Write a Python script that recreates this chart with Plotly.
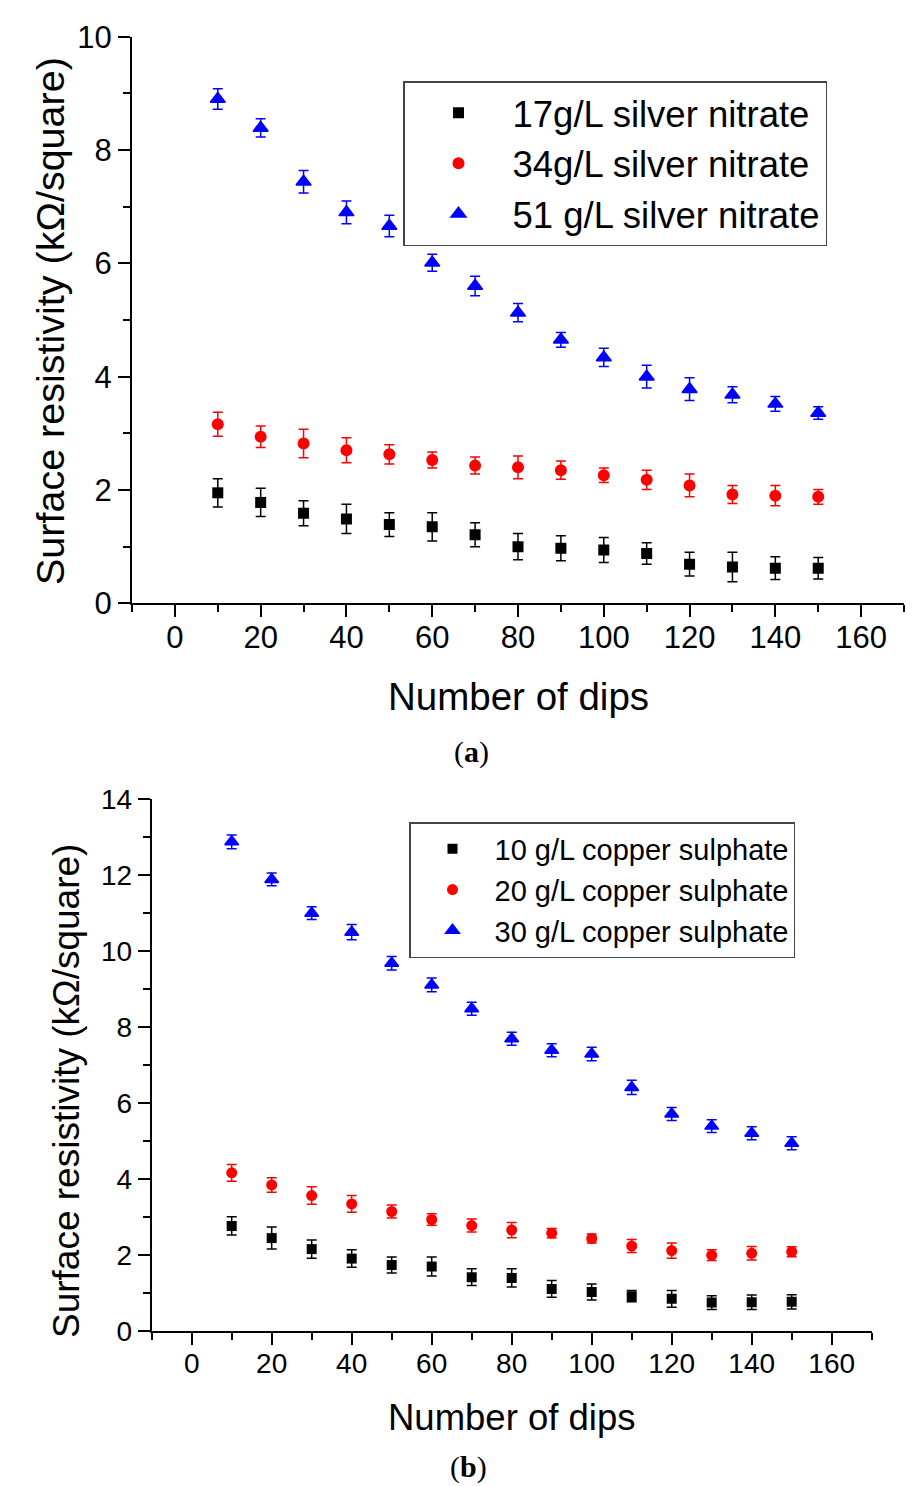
import plotly.graph_objects as go

# Number of dips (shared by both panels)
dips = [10, 20, 30, 40, 50, 60, 70, 80, 90, 100, 110, 120, 130, 140, 150]

# Panel (a): silver nitrate concentrations
ag17 = [1.95, 1.78, 1.59, 1.49, 1.39, 1.35, 1.21, 1.00, 0.97, 0.94, 0.88, 0.69, 0.64, 0.62, 0.62]
ag17_err = [0.25, 0.25, 0.22, 0.26, 0.21, 0.25, 0.21, 0.23, 0.22, 0.22, 0.19, 0.21, 0.26, 0.20, 0.19]
ag34 = [3.16, 2.94, 2.82, 2.70, 2.63, 2.53, 2.43, 2.40, 2.35, 2.26, 2.18, 2.08, 1.92, 1.90, 1.88]
ag34_err = [0.21, 0.19, 0.25, 0.22, 0.17, 0.14, 0.15, 0.20, 0.16, 0.13, 0.17, 0.20, 0.16, 0.18, 0.13]
ag51 = [8.90, 8.39, 7.44, 6.90, 6.66, 6.01, 5.60, 5.13, 4.65, 4.34, 4.00, 3.78, 3.68, 3.52, 3.36]
ag51_err = [0.18, 0.16, 0.20, 0.20, 0.19, 0.15, 0.17, 0.16, 0.13, 0.16, 0.20, 0.20, 0.14, 0.13, 0.11]

# Panel (b): copper sulphate concentrations
cu10 = [2.76, 2.44, 2.15, 1.90, 1.73, 1.69, 1.41, 1.39, 1.10, 1.02, 0.91, 0.84, 0.74, 0.75, 0.76]
cu10_err = [0.24, 0.29, 0.24, 0.23, 0.21, 0.25, 0.22, 0.24, 0.22, 0.21, 0.15, 0.22, 0.18, 0.19, 0.19]
cu20 = [4.16, 3.84, 3.56, 3.34, 3.14, 2.93, 2.77, 2.65, 2.57, 2.43, 2.23, 2.11, 1.99, 2.04, 2.08]
cu20_err = [0.22, 0.19, 0.23, 0.22, 0.17, 0.15, 0.17, 0.20, 0.12, 0.12, 0.17, 0.20, 0.14, 0.18, 0.13]
cu30 = [12.88, 11.89, 11.00, 10.50, 9.68, 9.11, 8.48, 7.69, 7.39, 7.29, 6.41, 5.71, 5.39, 5.20, 4.94]
cu30_err = [0.18, 0.17, 0.17, 0.20, 0.18, 0.18, 0.17, 0.17, 0.17, 0.18, 0.19, 0.17, 0.17, 0.17, 0.17]

names_a = ["17g/L silver nitrate", "34g/L silver nitrate", "51 g/L silver nitrate"]
names_b = ["10 g/L copper sulphate", "20 g/L copper sulphate", "30 g/L copper sulphate"]

FONT = "Liberation Sans, Arial, sans-serif"
# symbol, colour, size, outline width
styles = [("square", "black", 11, 0), ("circle", "red", 12, 0), ("triangle-up", "blue", 13, 1.5)]

fig = go.Figure()

panel_a = [(ag17, ag17_err), (ag34, ag34_err), (ag51, ag51_err)]
for (vals, errs), name, (sym, col, sz, lw) in zip(panel_a, names_a, styles):
    fig.add_trace(go.Scatter(
        x=dips, y=vals, name=name, mode="markers",
        marker=dict(symbol=sym, color=col, size=sz, line=dict(width=lw, color=col)),
        error_y=dict(type="data", array=errs, color=col, thickness=1.5, width=5),
        xaxis="x", yaxis="y", legend="legend",
    ))

panel_b = [(cu10, cu10_err), (cu20, cu20_err), (cu30, cu30_err)]
for (vals, errs), name, (sym, col, sz, lw) in zip(panel_b, names_b, styles):
    fig.add_trace(go.Scatter(
        x=dips, y=vals, name=name, mode="markers",
        marker=dict(symbol=sym, color=col, size=sz - 1, line=dict(width=lw, color=col)),
        error_y=dict(type="data", array=errs, color=col, thickness=1.5, width=5),
        xaxis="x2", yaxis="y2", legend="legend2",
    ))

W, H = 921, 1486


def px_x(p):
    return p / W


def px_y(p):
    return 1 - p / H


def xaxis_cfg(domain, fsize, ticklen, standoff):
    return dict(
        domain=domain, range=[-10, 170], tick0=0, dtick=20, automargin=False,
        showline=True, linecolor="black", linewidth=2,
        ticks="outside", ticklen=ticklen, tickwidth=2, tickcolor="black",
        minor=dict(dtick=10, tick0=0, ticks="outside", ticklen=7, tickwidth=2, tickcolor="black"),
        showgrid=False, zeroline=False, ticklabelstandoff=standoff,
        tickfont=dict(family=FONT, size=fsize, color="black"),
    )


def yaxis_cfg(domain, top, fsize, ticklen, anchor):
    return dict(
        domain=domain, range=[0, top], tick0=0, dtick=2, anchor=anchor, automargin=False,
        showline=True, linecolor="black", linewidth=2,
        ticks="outside", ticklen=ticklen, tickwidth=2, tickcolor="black",
        minor=dict(dtick=1, tick0=0, ticks="outside", ticklen=7, tickwidth=2, tickcolor="black"),
        showgrid=False, zeroline=False,
        tickfont=dict(family=FONT, size=fsize, color="black"),
    )


fig.update_layout(
    width=W, height=H,
    margin=dict(l=0, r=0, t=0, b=0, autoexpand=False),
    paper_bgcolor="white", plot_bgcolor="white",
    xaxis=dict(**xaxis_cfg([px_x(132), px_x(904)], 31, 12, -7), anchor="y"),
    yaxis=yaxis_cfg([px_y(603.3), px_y(36.7)], 10, 31, 12, "x"),
    xaxis2=dict(**xaxis_cfg([px_x(151.7), px_x(871.7)], 28, 12, -5), anchor="y2"),
    yaxis2=yaxis_cfg([px_y(1330.7), px_y(799.3)], 14, 28, 12, "x2"),
    legend=dict(
        x=px_x(403), y=px_y(81), xanchor="left", yanchor="top",
        bgcolor="white", bordercolor="#444444", borderwidth=1.5,
        font=dict(family=FONT, size=36.5, color="black"), itemwidth=98,
        entrywidth=315, entrywidthmode="pixels",
    ),
    legend2=dict(
        x=px_x(409), y=px_y(822), xanchor="left", yanchor="top",
        bgcolor="white", bordercolor="#444444", borderwidth=1.5,
        font=dict(family=FONT, size=29, color="black"), itemwidth=74,
        entrywidth=300, entrywidthmode="pixels",
    ),
    showlegend=True,
)

ytitle = "Surface resistivity (kΩ/square)"
annotations = [
    dict(text=ytitle, x=px_x(50), y=px_y(321), textangle=-90, font=dict(family=FONT, size=39.5)),
    dict(text="Number of dips", x=px_x(518), y=px_y(696), font=dict(family=FONT, size=38.5)),
    dict(text="(<b>a</b>)", x=px_x(471), y=px_y(752), font=dict(family="Liberation Serif, serif", size=30)),
    dict(text=ytitle, x=px_x(66), y=px_y(1091), textangle=-90, font=dict(family=FONT, size=37)),
    dict(text="Number of dips", x=px_x(512), y=px_y(1417), font=dict(family=FONT, size=36.5)),
    dict(text="(<b>b</b>)", x=px_x(468), y=px_y(1467), font=dict(family="Liberation Serif, serif", size=30)),
]
for a in annotations:
    a.update(xref="paper", yref="paper", showarrow=False, xanchor="center", yanchor="middle")
    a["font"]["color"] = "black"
fig.update_layout(annotations=annotations)

fig.write_html("out.html")
